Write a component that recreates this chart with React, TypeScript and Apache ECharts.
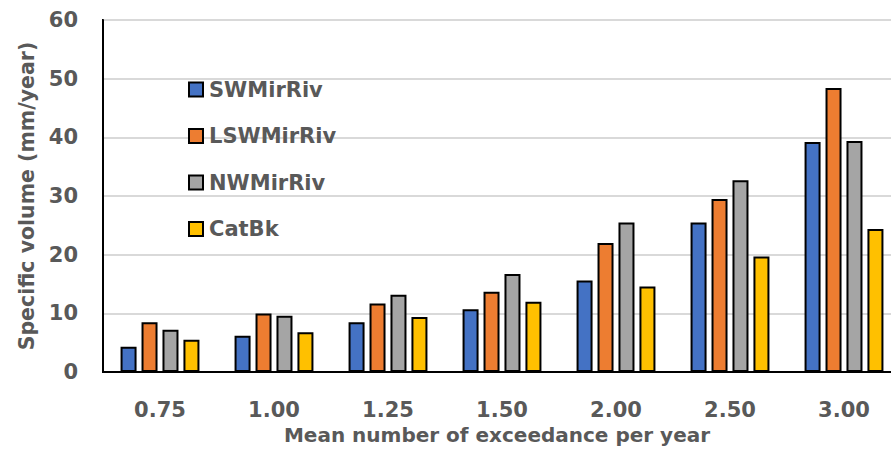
import React, { useEffect, useRef } from "react";
import * as echarts from "echarts";

const categories = ["0.75", "1.00", "1.25", "1.50", "2.00", "2.50", "3.00"];
const seriesNames = ["SWMirRiv", "LSWMirRiv", "NWMirRiv", "CatBk"];
const swMirRiv = [4.3, 6.2, 8.5, 10.7, 15.6, 25.5, 39.2];
const lswMirRiv = [8.5, 10.0, 11.7, 13.7, 22.0, 29.5, 48.4];
const nwMirRiv = [7.2, 9.6, 13.2, 16.7, 25.5, 32.7, 39.4];
const catBk = [5.5, 6.8, 9.4, 12.0, 14.6, 19.7, 24.4];
const colors = ["#4472C4", "#ED7D31", "#A5A5A5", "#FFC000"];

const FONT = "'DejaVu Sans', 'Open Sans', sans-serif";
const TEXT = "#595959";

export default function App() {
  const ref = useRef<HTMLDivElement>(null);
  useEffect(() => {
    if (!ref.current) return;
    const chart = echarts.init(ref.current, undefined, { renderer: "svg" });
    const data = [swMirRiv, lswMirRiv, nwMirRiv, catBk];
    chart.setOption({
      animation: false,
      backgroundColor: "#ffffff",
      textStyle: { fontFamily: FONT },
      grid: {
        left: 103,
        top: 20,
        bottom: 72,
        right: 0,
        show: true,
        borderColor: "#000000",
        borderWidth: 2,
      },
      legend: {
        orient: "vertical",
        left: 188,
        top: 79,
        padding: 0,
        itemWidth: 14,
        itemHeight: 14,
        itemGap: 25.5,
        icon: "rect",
        textStyle: {
          color: TEXT,
          fontSize: 21,
          fontWeight: "bold",
          fontFamily: FONT,
          lineHeight: 20,
          padding: [0, 0, 0, 1],
        },
        data: seriesNames,
      },
      xAxis: {
        type: "category",
        data: categories,
        name: "Mean number of exceedance per year",
        nameLocation: "middle",
        nameGap: 52,
        nameTextStyle: {
          color: TEXT,
          fontSize: 20,
          fontWeight: "bold",
          fontFamily: FONT,
          padding: [0, 10, 0, 0],
        },
        axisLine: { lineStyle: { color: "#000000", width: 2 } },
        axisTick: { show: false },
        axisLabel: {
          color: TEXT,
          fontSize: 21,
          fontWeight: "bold",
          fontFamily: FONT,
          margin: 27,
        },
      },
      yAxis: {
        type: "value",
        min: 0,
        max: 60,
        interval: 10,
        name: "Specific volume (mm/year)",
        nameLocation: "middle",
        nameGap: 66,
        nameTextStyle: {
          color: TEXT,
          fontSize: 20.5,
          fontWeight: "bold",
          fontFamily: FONT,
        },
        axisLine: { show: true, lineStyle: { color: "#000000", width: 2 } },
        axisTick: { show: false },
        splitLine: { lineStyle: { color: "#D9D9D9", width: 2 } },
        axisLabel: {
          color: TEXT,
          fontSize: 21,
          fontWeight: "bold",
          fontFamily: FONT,
          margin: 25,
        },
      },
      series: seriesNames.map((name, i) => ({
        name,
        type: "bar",
        data: data[i],
        barWidth: 16,
        barGap: "31%",
        itemStyle: { color: colors[i], borderColor: "#000000", borderWidth: 2 },
      })),
    });
    return () => chart.dispose();
  }, []);
  return (
    <div
      style={{
        position: "fixed",
        left: 0,
        top: 0,
        width: 891,
        height: 450,
        overflow: "hidden",
        background: "#fff",
      }}
    >
      <div ref={ref} style={{ width: 901, height: 450 }} />
    </div>
  );
}
